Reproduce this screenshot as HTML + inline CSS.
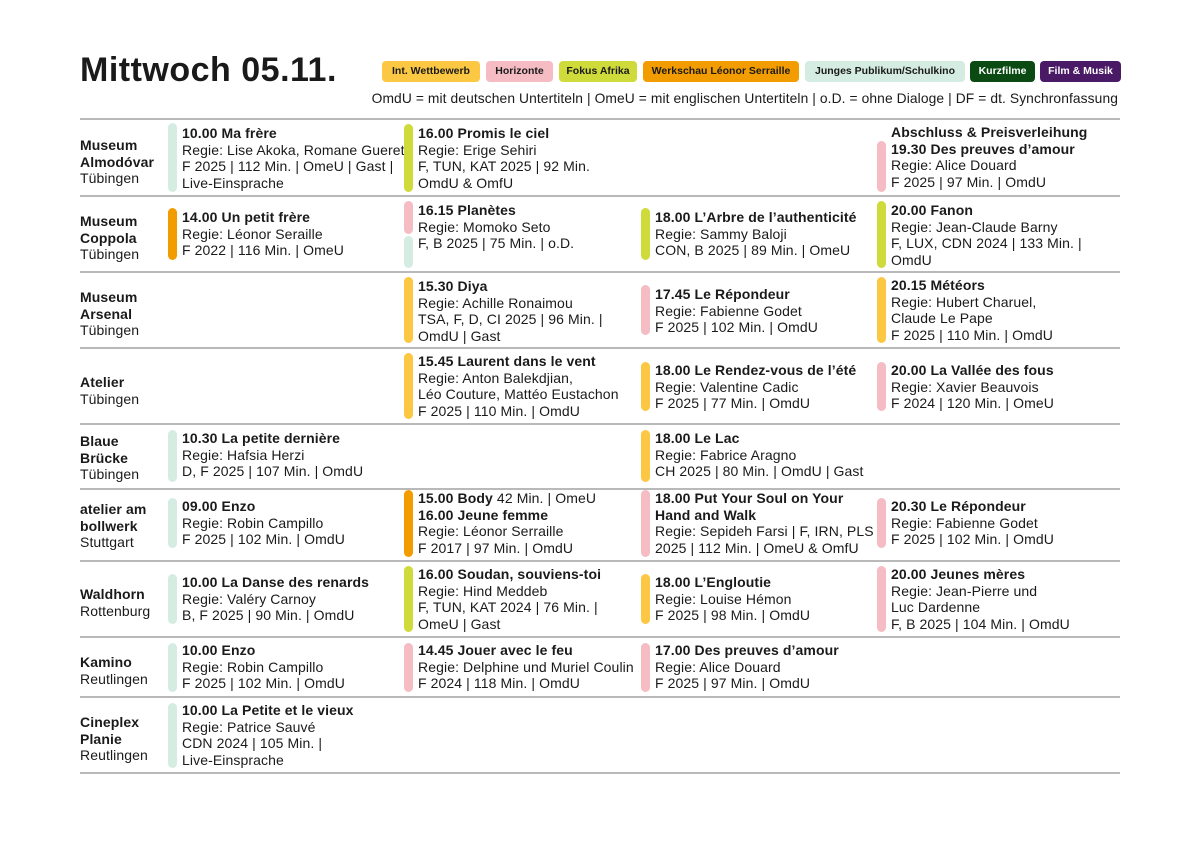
<!DOCTYPE html>
<html><head><meta charset="utf-8"><style>
*{margin:0;padding:0;box-sizing:border-box}
body{width:1200px;height:850px;background:#fff;position:relative;font-family:"Liberation Sans",sans-serif;color:#1a1a1a;overflow:hidden}
.a{position:absolute;white-space:nowrap}
.t{font-size:14px;line-height:16.7px;letter-spacing:0.1px}
.t b{font-weight:bold}
.bar{position:absolute;width:9px;border-radius:4.5px}
.hl{position:absolute;left:80px;width:1040px;height:2px;background:#b9b9b9}
.bd{position:absolute;top:61px;height:21px;border-radius:4px;font-size:10.5px;font-weight:bold;line-height:21px;text-align:center;white-space:nowrap}
.Y{background:#fcc844}.P{background:#f5bcc3}.L{background:#cfdb3a}.O{background:#f39c00}.M{background:#d5ece3}
</style></head><body>
<div class="a" style="left:80px;top:51px;font-size:34px;font-weight:bold;letter-spacing:0.5px">Mittwoch 05.11.</div>
<div class="bd Y" style="left:382px;width:98px">Int. Wettbewerb</div>
<div class="bd P" style="left:486px;width:67px">Horizonte</div>
<div class="bd L" style="left:559px;width:78px">Fokus Afrika</div>
<div class="bd O" style="left:643px;width:156px">Werkschau Léonor Serraille</div>
<div class="bd M" style="left:805px;width:160px">Junges Publikum/Schulkino</div>
<div class="bd" style="left:970px;width:65px;background:#0b4a12;color:#fff">Kurzfilme</div>
<div class="bd" style="left:1040px;width:81px;background:#4a1a66;color:#fff">Film &amp; Musik</div>
<div class="a" style="right:82px;top:91px;font-size:13.8px;letter-spacing:0.1px">OmdU = mit deutschen Untertiteln | OmeU = mit englischen Untertiteln | o.D. = ohne Dialoge | DF = dt. Synchronfassung</div>

<div class="hl" style="top:118px"></div><div class="hl" style="top:195px"></div><div class="hl" style="top:271px"></div><div class="hl" style="top:347px"></div><div class="hl" style="top:423px"></div><div class="hl" style="top:488px"></div><div class="hl" style="top:560px"></div><div class="hl" style="top:636px"></div><div class="hl" style="top:696px"></div><div class="hl" style="top:772px"></div>

<!-- venues -->
<div class="a t" style="left:80px;top:137px"><b>Museum</b><br><b>Almodóvar</b><br>Tübingen</div>
<div class="a t" style="left:80px;top:213px"><b>Museum</b><br><b>Coppola</b><br>Tübingen</div>
<div class="a t" style="left:80px;top:289px"><b>Museum</b><br><b>Arsenal</b><br>Tübingen</div>
<div class="a t" style="left:80px;top:374px"><b>Atelier</b><br>Tübingen</div>
<div class="a t" style="left:80px;top:433px"><b>Blaue</b><br><b>Brücke</b><br>Tübingen</div>
<div class="a t" style="left:80px;top:501px"><b>atelier am</b><br><b>bollwerk</b><br>Stuttgart</div>
<div class="a t" style="left:80px;top:586px"><b>Waldhorn</b><br>Rottenburg</div>
<div class="a t" style="left:80px;top:654px"><b>Kamino</b><br>Reutlingen</div>
<div class="a t" style="left:80px;top:714px"><b>Cineplex</b><br><b>Planie</b><br>Reutlingen</div>

<!-- row1 -->
<div class="bar M" style="left:168px;top:123px;height:69px"></div>
<div class="a t" style="left:182px;top:125px"><b>10.00 Ma frère</b><br>Regie: Lise Akoka, Romane Gueret<br>F 2025 | 112 Min. | OmeU | Gast |<br>Live-Einsprache</div>
<div class="bar L" style="left:404px;top:124px;height:68px"></div>
<div class="a t" style="left:418px;top:125px"><b>16.00 Promis le ciel</b><br>Regie: Erige Sehiri<br>F, TUN, KAT 2025 | 92 Min.<br>OmdU &amp; OmfU</div>
<div class="bar P" style="left:877px;top:141px;height:51px"></div>
<div class="a t" style="left:891px;top:124px"><b>Abschluss &amp; Preisverleihung</b><br><b>19.30 Des preuves d’amour</b><br>Regie: Alice Douard<br>F 2025 | 97 Min. | OmdU</div>

<!-- row2 -->
<div class="bar O" style="left:168px;top:208px;height:52px"></div>
<div class="a t" style="left:182px;top:209px"><b>14.00 Un petit frère</b><br>Regie: Léonor Seraille<br>F 2022 | 116 Min. | OmeU</div>
<div class="bar P" style="left:404px;top:201px;height:33px"></div>
<div class="bar M" style="left:404px;top:236px;height:32px"></div>
<div class="a t" style="left:418px;top:202px"><b>16.15 Planètes</b><br>Regie: Momoko Seto<br>F, B 2025 | 75 Min. | o.D.</div>
<div class="bar L" style="left:641px;top:208px;height:52px"></div>
<div class="a t" style="left:655px;top:209px"><b>18.00 L’Arbre de l’authenticité</b><br>Regie: Sammy Baloji<br>CON, B 2025 | 89 Min. | OmeU</div>
<div class="bar L" style="left:877px;top:201px;height:67px"></div>
<div class="a t" style="left:891px;top:202px"><b>20.00 Fanon</b><br>Regie: Jean-Claude Barny<br>F, LUX, CDN 2024 | 133 Min. |<br>OmdU</div>

<!-- row3 -->
<div class="bar Y" style="left:404px;top:277px;height:66px"></div>
<div class="a t" style="left:418px;top:278px"><b>15.30 Diya</b><br>Regie: Achille Ronaimou<br>TSA, F, D, CI 2025 | 96 Min. |<br>OmdU | Gast</div>
<div class="bar P" style="left:641px;top:285px;height:50px"></div>
<div class="a t" style="left:655px;top:286px"><b>17.45 Le Répondeur</b><br>Regie: Fabienne Godet<br>F 2025 | 102 Min. | OmdU</div>
<div class="bar Y" style="left:877px;top:277px;height:66px"></div>
<div class="a t" style="left:891px;top:277px"><b>20.15 Météors</b><br>Regie: Hubert Charuel,<br>Claude Le Pape<br>F 2025 | 110 Min. | OmdU</div>

<!-- row4 -->
<div class="bar Y" style="left:404px;top:353px;height:66px"></div>
<div class="a t" style="left:418px;top:353px"><b>15.45 Laurent dans le vent</b><br>Regie: Anton Balekdjian,<br>Léo Couture, Mattéo Eustachon<br>F 2025 | 110 Min. | OmdU</div>
<div class="bar Y" style="left:641px;top:362px;height:49px"></div>
<div class="a t" style="left:655px;top:362px"><b>18.00 Le Rendez-vous de l’été</b><br>Regie: Valentine Cadic<br>F 2025 | 77 Min. | OmdU</div>
<div class="bar P" style="left:877px;top:362px;height:49px"></div>
<div class="a t" style="left:891px;top:362px"><b>20.00 La Vallée des fous</b><br>Regie: Xavier Beauvois<br>F 2024 | 120 Min. | OmeU</div>

<!-- row5 -->
<div class="bar M" style="left:168px;top:430px;height:52px"></div>
<div class="a t" style="left:182px;top:430px"><b>10.30 La petite dernière</b><br>Regie: Hafsia Herzi<br>D, F 2025 | 107 Min. | OmdU</div>
<div class="bar Y" style="left:641px;top:430px;height:52px"></div>
<div class="a t" style="left:655px;top:430px"><b>18.00 Le Lac</b><br>Regie: Fabrice Aragno<br>CH 2025 | 80 Min. | OmdU | Gast</div>

<!-- row6 -->
<div class="bar M" style="left:168px;top:498px;height:50px"></div>
<div class="a t" style="left:182px;top:498px"><b>09.00 Enzo</b><br>Regie: Robin Campillo<br>F 2025 | 102 Min. | OmdU</div>
<div class="bar O" style="left:404px;top:490px;height:67px"></div>
<div class="a t" style="left:418px;top:490px"><b>15.00 Body</b> 42 Min. | OmeU<br><b>16.00 Jeune femme</b><br>Regie: Léonor Serraille<br>F 2017 | 97 Min. | OmdU</div>
<div class="bar P" style="left:641px;top:490px;height:67px"></div>
<div class="a t" style="left:655px;top:490px"><b>18.00 Put Your Soul on Your</b><br><b>Hand and Walk</b><br>Regie: Sepideh Farsi | F, IRN, PLS<br>2025 | 112 Min. | OmeU &amp; OmfU</div>
<div class="bar P" style="left:877px;top:498px;height:50px"></div>
<div class="a t" style="left:891px;top:498px"><b>20.30 Le Répondeur</b><br>Regie: Fabienne Godet<br>F 2025 | 102 Min. | OmdU</div>

<!-- row7 -->
<div class="bar M" style="left:168px;top:574px;height:50px"></div>
<div class="a t" style="left:182px;top:574px"><b>10.00 La Danse des renards</b><br>Regie: Valéry Carnoy<br>B, F 2025 | 90 Min. | OmdU</div>
<div class="bar L" style="left:404px;top:566px;height:66px"></div>
<div class="a t" style="left:418px;top:566px"><b>16.00 Soudan, souviens-toi</b><br>Regie: Hind Meddeb<br>F, TUN, KAT 2024 | 76 Min. |<br>OmeU | Gast</div>
<div class="bar Y" style="left:641px;top:574px;height:50px"></div>
<div class="a t" style="left:655px;top:574px"><b>18.00 L’Engloutie</b><br>Regie: Louise Hémon<br>F 2025 | 98 Min. | OmdU</div>
<div class="bar P" style="left:877px;top:566px;height:66px"></div>
<div class="a t" style="left:891px;top:566px"><b>20.00 Jeunes mères</b><br>Regie: Jean-Pierre und<br>Luc Dardenne<br>F, B 2025 | 104 Min. | OmdU</div>

<!-- row8 -->
<div class="bar M" style="left:168px;top:643px;height:49px"></div>
<div class="a t" style="left:182px;top:642px"><b>10.00 Enzo</b><br>Regie: Robin Campillo<br>F 2025 | 102 Min. | OmdU</div>
<div class="bar P" style="left:404px;top:643px;height:49px"></div>
<div class="a t" style="left:418px;top:642px"><b>14.45 Jouer avec le feu</b><br>Regie: Delphine und Muriel Coulin<br>F 2024 | 118 Min. | OmdU</div>
<div class="bar P" style="left:641px;top:643px;height:49px"></div>
<div class="a t" style="left:655px;top:642px"><b>17.00 Des preuves d’amour</b><br>Regie: Alice Douard<br>F 2025 | 97 Min. | OmdU</div>

<!-- row9 -->
<div class="bar M" style="left:168px;top:703px;height:65px"></div>
<div class="a t" style="left:182px;top:702px"><b>10.00 La Petite et le vieux</b><br>Regie: Patrice Sauvé<br>CDN 2024 | 105 Min. |<br>Live-Einsprache</div>
</body></html>
